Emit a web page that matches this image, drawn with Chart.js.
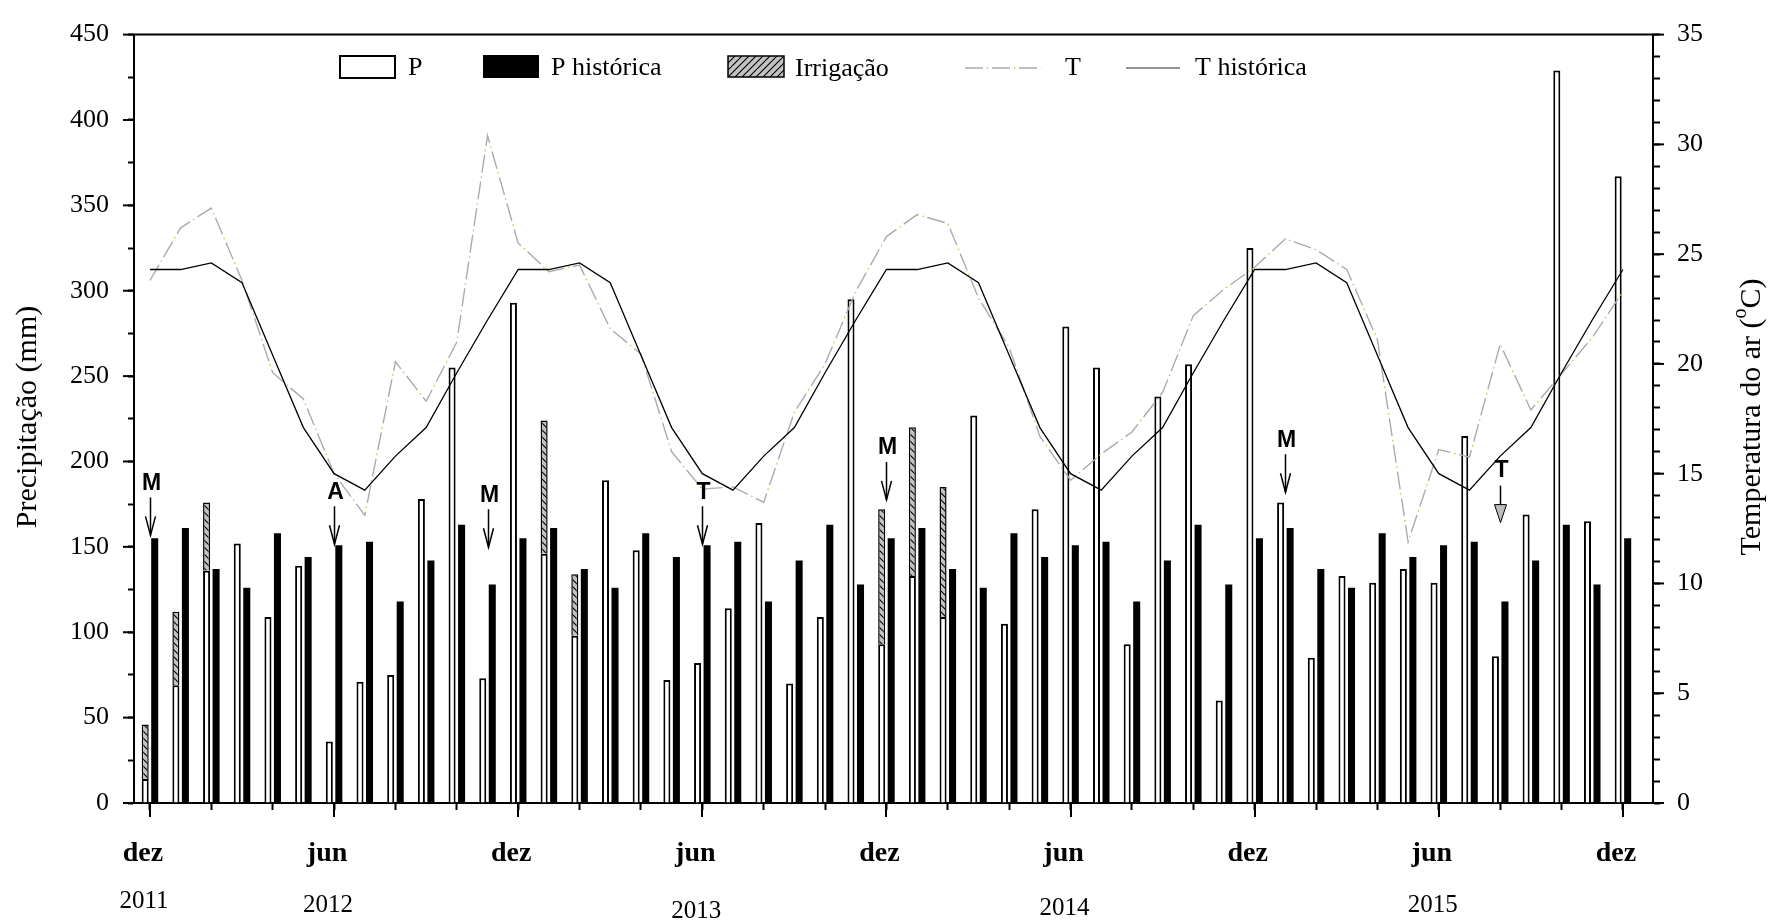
<!DOCTYPE html>
<html><head><meta charset="utf-8">
<script src="https://cdn.jsdelivr.net/npm/chart.js@4/dist/chart.umd.min.js"></script>
<style>html,body{margin:0;padding:0;background:#fff;}#wrap{width:1771px;height:921px;position:relative;}</style>
</head><body><div id="wrap"><canvas id="c"></canvas></div>
<script>
// ---- data (monthly, dez 2011 .. dez 2015) ----
const months = ['dez 2011','jan 2012','fev 2012','mar 2012','abr 2012','mai 2012','jun 2012','jul 2012','ago 2012','set 2012','out 2012','nov 2012',
 'dez 2012','jan 2013','fev 2013','mar 2013','abr 2013','mai 2013','jun 2013','jul 2013','ago 2013','set 2013','out 2013','nov 2013',
 'dez 2013','jan 2014','fev 2014','mar 2014','abr 2014','mai 2014','jun 2014','jul 2014','ago 2014','set 2014','out 2014','nov 2014',
 'dez 2014','jan 2015','fev 2015','mar 2015','abr 2015','mai 2015','jun 2015','jul 2015','ago 2015','set 2015','out 2015','nov 2015','dez 2015'];
const P = [14,69,136,152,109,139,36,71,75,178,255,73,293,146,98,189,148,72,82,114,164,70,109,295,93,133,109,227,105,172,279,255,93,238,257,60,325,176,85,133,129,137,129,215,86,169,429,165,367];
const Irrigacao = [32,43,40,null,null,null,null,null,null,null,null,null,null,78,36,null,null,null,null,null,null,null,null,null,79,87,76,null,null,null,null,null,null,null,null,null,null,null,null,null,null,null,null,null,null,null,null,null,null];
const Phist = [155,161,137,126,158,144,151,153,118,142,163,128,155,161,137,126,158,144,151,153,118,142,163,128,155,161,137,126,158,144,151,153,118,142,163,128,155,161,137,126,158,144,151,153,118,142,163,128,155];
const T = [23.8,26.2,27.1,23.8,19.6,18.4,15.0,13.1,20.1,18.3,21.0,30.4,25.5,24.2,24.5,21.6,20.45,16.0,14.3,14.4,13.7,17.8,20.0,23.3,25.8,26.8,26.4,23.0,20.75,16.7,14.7,15.9,16.9,18.7,22.2,23.4,24.4,25.7,25.2,24.3,21.1,11.9,16.1,15.75,20.9,17.9,19.55,21.2,23.3];
const Thist = [24.3,24.3,24.6,23.7,20.4,17.1,15.0,14.25,15.8,17.1,19.6,22.0,24.3,24.3,24.6,23.7,20.4,17.1,15.0,14.25,15.8,17.1,19.6,22.0,24.3,24.3,24.6,23.7,20.4,17.1,15.0,14.25,15.8,17.1,19.6,22.0,24.3,24.3,24.6,23.7,20.4,17.1,15.0,14.25,15.8,17.1,19.6,22.0,24.3];
const tickMonths = [0,2,4,6,8,10,12,14,16,18,20,22,24,26,28,30,32,34,36,38,40,42,44,46,48];
const labelMonths = [0,6,12,18,24,30,36,42,48];
const labelNames = ['dez','jun','dez','jun','dez','jun','dez','jun','dez'];
const yearMonths = [0,6,18,30,42];
const yearNames = ['2011','2012','2013','2014','2015'];
const marks = [
  {m:0, label:'M', tip:156.7},
  {m:6, label:'A', tip:151.5},
  {m:11, label:'M', tip:149.8},
  {m:18, label:'T', tip:151.5},
  {m:24, label:'M', tip:177.5},
  {m:37, label:'M', tip:182},
  {m:44, label:'T', tip:164.2, filled:true}
];

const SERIF = 'Liberation Serif';
const SANS = 'Liberation Sans';
const canvas = document.getElementById('c');
const ctx0 = canvas.getContext('2d');

function hatch(dir){
  const s = 7, c = document.createElement('canvas'); c.width = s; c.height = s;
  const g = c.getContext('2d');
  g.fillStyle = '#c2c2c2'; g.fillRect(0,0,s,s);
  g.strokeStyle = '#000'; g.lineWidth = 1.1; g.beginPath();
  if (dir === '/') { g.moveTo(-1,s+1); g.lineTo(s+1,-1); g.moveTo(-1,1); g.lineTo(1,-1); g.moveTo(s-1,s+1); g.lineTo(s+1,s-1); }
  else { g.moveTo(-1,-1); g.lineTo(s+1,s+1); g.moveTo(s-1,-1); g.lineTo(s+1,1); g.moveTo(-1,s-1); g.lineTo(1,s+1); }
  g.stroke();
  return ctx0.createPattern(c,'repeat');
}
const barHatch = hatch('\\');
const legHatch = hatch('/');

const pts = arr => arr.map((v,i) => ({x:i, y:v}));

function seg(ctx,x1,y1,x2,y2){ctx.beginPath();ctx.moveTo(x1,y1);ctx.lineTo(x2,y2);ctx.stroke();}

const marksPlugin = {
  id:'marks',
  afterDatasetsDraw(chart){
    const {ctx, scales:{x,y}} = chart;
    ctx.save();
    ctx.strokeStyle = '#000'; ctx.fillStyle = '#000'; ctx.lineWidth = 1.5;
    ctx.font = 'bold 23px ' + SANS; ctx.textAlign = 'center'; ctx.textBaseline = 'middle';
    marks.forEach(mk => {
      const px = Math.round(x.getPixelForValue(mk.m)) + 0.5, py = y.getPixelForValue(mk.tip);
      ctx.fillStyle = '#000';
      ctx.fillText(mk.label, px + 1, py - 52);
      if (mk.filled) {
        seg(ctx, px, py - 37, px, py - 18);
        ctx.beginPath(); ctx.moveTo(px - 6, py - 18); ctx.lineTo(px + 6, py - 18); ctx.lineTo(px, py); ctx.closePath();
        ctx.fillStyle = '#bdbdbd'; ctx.fill(); ctx.lineWidth = 1; ctx.stroke(); ctx.lineWidth = 1.5;
      } else {
        seg(ctx, px, py - 38, px, py);
        ctx.beginPath(); ctx.moveTo(px - 5, py - 19); ctx.lineTo(px, py); ctx.lineTo(px + 5, py - 19); ctx.stroke();
      }
    });
    ctx.restore();
  }
};

const decoPlugin = {
  id:'deco',
  afterDraw(chart){
    const {ctx, chartArea:a, scales:{x,y,yT}} = chart;
    ctx.save();
    ctx.strokeStyle = '#000'; ctx.lineWidth = 2;
    seg(ctx, a.left - 1, a.top, a.right + 1, a.top);
    for (let v = 0; v <= 450; v += 50) { const py = y.getPixelForValue(v); seg(ctx, a.left - 11, py, a.left, py); }
    for (let v = 0; v <= 35; v += 5) { const py = yT.getPixelForValue(v); seg(ctx, a.right, py, a.right + 11, py); }
    labelMonths.forEach(m => { const px = Math.round(x.getPixelForValue(m)); seg(ctx, px, a.bottom, px, a.bottom + 14); });
    // years
    ctx.fillStyle = '#000'; ctx.font = '25px ' + SERIF; ctx.textAlign = 'center'; ctx.textBaseline = 'alphabetic';
    const yb = [908, 912, 918, 915, 912];
    yearNames.forEach((t,i) => ctx.fillText(t, x.getPixelForValue(yearMonths[i]) - 6, yb[i]));
    // axis titles
    ctx.save(); ctx.translate(28, 417); ctx.rotate(-Math.PI/2);
    ctx.font = '30px ' + SERIF; ctx.textBaseline = 'middle'; ctx.textAlign = 'center';
    ctx.fillText('Precipitação (mm)', 0, 0); ctx.restore();
    ctx.save(); ctx.translate(1752, 417); ctx.rotate(-Math.PI/2);
    ctx.textBaseline = 'middle'; ctx.textAlign = 'left';
    const p1 = 'Temperatura do ar (', p2 = 'o', p3 = 'C)';
    ctx.font = '30px ' + SERIF; const w1 = ctx.measureText(p1).width, w3 = ctx.measureText(p3).width;
    ctx.font = '20px ' + SERIF; const w2 = ctx.measureText(p2).width;
    let sx = -(w1 + w2 + w3) / 2;
    ctx.font = '30px ' + SERIF; ctx.fillText(p1, sx, 0); sx += w1;
    ctx.font = '20px ' + SERIF; ctx.fillText(p2, sx, -11); sx += w2;
    ctx.font = '30px ' + SERIF; ctx.fillText(p3, sx, 0);
    ctx.restore();
    // legend
    ctx.font = '26px ' + SERIF; ctx.textAlign = 'left'; ctx.textBaseline = 'alphabetic'; ctx.fillStyle = '#000';
    ctx.fillStyle = '#fff'; ctx.fillRect(340, 56, 55, 22); ctx.lineWidth = 2; ctx.strokeStyle = '#000'; ctx.strokeRect(340, 56, 55, 22);
    ctx.fillStyle = '#000'; ctx.fillText('P', 408, 75);
    ctx.fillRect(483, 55, 56, 23); ctx.fillText('P histórica', 551, 75);
    ctx.fillStyle = legHatch; ctx.fillRect(728, 56, 56, 21); ctx.lineWidth = 1.5; ctx.strokeRect(728, 56, 56, 21);
    ctx.fillStyle = '#000'; ctx.fillText('Irrigação', 795, 76);
    ctx.lineWidth = 1.4; ctx.strokeStyle = '#ababab'; ctx.setLineDash([18, 9]); seg(ctx, 965, 68, 1041, 68);
    ctx.strokeStyle = '#c8c850'; ctx.setLineDash([1.5, 25.5]); ctx.lineDashOffset = -21.75; seg(ctx, 965, 68, 1041, 68);
    ctx.setLineDash([]); ctx.lineDashOffset = 0;
    ctx.fillText('T', 1065, 75);
    ctx.strokeStyle = '#707070'; ctx.lineWidth = 1.5; seg(ctx, 1126, 68, 1180, 68);
    ctx.fillText('T histórica', 1195, 75);
    ctx.restore();
  }
};

new Chart(canvas, {
  type: 'bar',
  data: {
    labels: months,
    datasets: [
      {type:'line', label:'T histórica', data: pts(Thist), xAxisID:'x', yAxisID:'yT', borderColor:'#000', borderWidth:1.3, pointRadius:0, tension:0, order:0},
      {type:'line', label:'T', data: pts(T), xAxisID:'x', yAxisID:'yT', borderColor:'#ababab', borderWidth:1.4, borderDash:[18,9], pointRadius:0, tension:0, order:0},
      {type:'line', label:'T dots', data: pts(T), xAxisID:'x', yAxisID:'yT', borderColor:'#c8c850', borderWidth:1.4, borderDash:[1.5,25.5], borderDashOffset:-21.75, pointRadius:0, tension:0, order:0},
      {label:'P', data: pts(P), xAxisID:'x', yAxisID:'y', stack:'obs', backgroundColor:'#fff', borderColor:'#000', borderWidth:2, categoryPercentage:0.62, barPercentage:0.74, order:1},
      {label:'Irrigação', data: pts(Irrigacao), xAxisID:'x', yAxisID:'y', stack:'obs', backgroundColor:barHatch, borderColor:'#000', borderWidth:1.5, categoryPercentage:0.62, barPercentage:0.74, order:1},
      {label:'P histórica', data: pts(Phist), xAxisID:'x', yAxisID:'y', stack:'hist', backgroundColor:'#000', borderWidth:0, categoryPercentage:0.62, barPercentage:0.74, order:1}
    ]
  },
  options: {
    responsive:true, maintainAspectRatio:false, devicePixelRatio:1, animation:false,
    layout:{padding:{top:22,left:0,right:0,bottom:0}},
    plugins:{legend:{display:false}, tooltip:{enabled:false}},
    scales:{
      x:{type:'linear', min:-0.52, max:48.98, bounds:'data', stacked:true, offset:false,
        afterBuildTicks(s){ s.ticks = tickMonths.map(v => ({value:v})); },
        ticks:{autoSkip:false, maxRotation:0, minRotation:0, padding:27, labelOffset:-7, color:'#000',
          font:{family:SERIF, size:28, weight:'bold'},
          callback(v){ const k = labelMonths.indexOf(v); return k >= 0 ? labelNames[k] : ''; }},
        grid:{display:true, drawOnChartArea:false, offset:false, tickLength:7, tickWidth:2, tickColor:'#000'},
        border:{display:true, color:'#000', width:2},
        afterFit(s){ s.height = 118; }
      },
      y:{position:'left', min:0, max:450, stacked:true,
        ticks:{stepSize:25, autoSkip:false, padding:19, color:'#000', font:{family:SERIF, size:26},
          callback(v){ return v % 50 === 0 ? String(v) : ''; }},
        grid:{display:true, drawOnChartArea:false, tickLength:6, tickWidth:2, tickColor:'#000'},
        border:{display:true, color:'#000', width:2},
        afterFit(s){ s.width = 134; }
      },
      yT:{position:'right', min:0, max:35, stacked:false,
        ticks:{stepSize:1, autoSkip:false, padding:17, color:'#000', font:{family:SERIF, size:26},
          callback(v){ return v % 5 === 0 ? String(v) : ''; }},
        grid:{display:true, drawOnChartArea:false, tickLength:7, tickWidth:2, tickColor:'#000'},
        border:{display:true, color:'#000', width:2},
        afterFit(s){ s.width = 118; }
      }
    }
  },
  plugins:[marksPlugin, decoPlugin]
});
</script></body></html>
